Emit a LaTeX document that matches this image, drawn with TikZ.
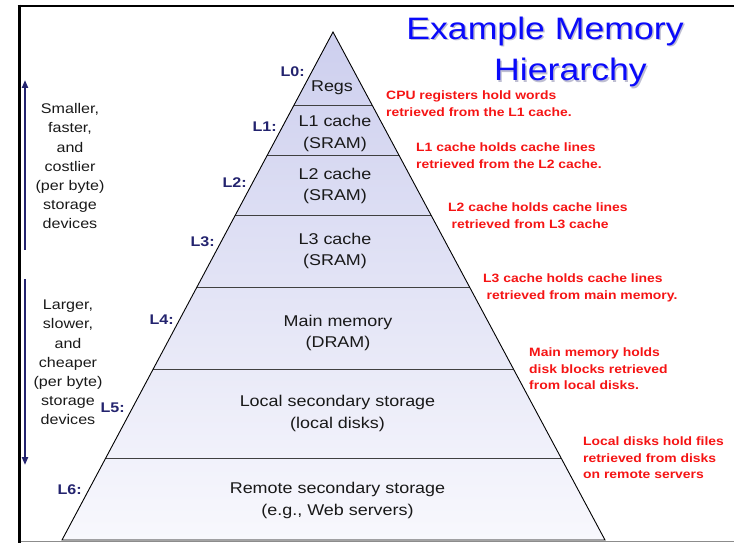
\documentclass[tikz,border=0pt]{standalone}
\usepackage{fontspec}
\setmainfont{Liberation Sans}
\usepackage{graphicx}
\usetikzlibrary{calc,arrows.meta}
\definecolor{navy}{RGB}{35,35,110}
\definecolor{redtxt}{RGB}{245,20,20}
\definecolor{titleblue}{RGB}{10,10,250}
\definecolor{titleshadow}{RGB}{190,190,210}
\definecolor{topfill}{RGB}{205,207,238}
\definecolor{botfill}{RGB}{248,248,253}
\definecolor{bodytext}{RGB}{25,25,25}
\newcommand{\sx}[1]{\scalebox{1.15}[1]{#1}}
\newcommand{\bandtext}[1]{\sx{\begin{tabular}{@{}c@{}}#1\end{tabular}}}
\newcommand{\notetext}[1]{\sx{\begin{tabular}[t]{@{}l@{}}#1\end{tabular}}}
\begin{document}
\begin{tikzpicture}[x=1pt,y=-1pt,
  band/.style={inner sep=0pt, text=bodytext, font=\fontsize{15.6}{21.5}\selectfont},
  side/.style={inner sep=0pt, text=bodytext, font=\fontsize{14}{19.2}\selectfont},
  note/.style={inner sep=0pt, text=redtxt, font=\fontsize{12.1}{17}\selectfont\bfseries},
  notetight/.style={note, font=\fontsize{12.1}{16.7}\selectfont\bfseries},
  lvl/.style={inner sep=0pt, anchor=east, text=navy, font=\fontsize{14}{16}\selectfont\bfseries},
  titletext/.style={inner sep=0pt, anchor=base, font=\fontsize{31}{37}\selectfont},
  sep/.style={draw=black!75, line width=0.9pt},
  outline/.style={draw=black, line width=0.9pt, line join=miter},
  navyarrow/.style={draw=navy, line width=2pt, -{Triangle[length=8pt,width=6pt]}}
]
\useasboundingbox (0,0) rectangle (734,543);

% frame
\draw[black, line width=2.5pt] (17.5,6) -- (734,6);
\draw[black, line width=3pt] (19,4.75) -- (19,543);
\draw[black!45, line width=1.5pt] (20.5,541.5) -- (734,541.5);

% pyramid
\coordinate (apex) at (333,32);
\coordinate (bl) at (62,540);
\coordinate (br) at (605,540);
\shade[top color=topfill, bottom color=botfill] (apex) -- (bl) -- (br) -- cycle;
\foreach \yy/\n in {105/a,155/b,215/c,287/d,369/e,458/f}{
  \coordinate (L\n) at ({333-271/508*(\yy-32)},\yy);
  \coordinate (R\n) at ({333+272/508*(\yy-32)},\yy);
}
\foreach \n in {a,b,c,d,e,f}{ \draw[sep] (L\n) -- (R\n); }
\draw[outline] (apex) -- (bl) -- (br) -- cycle;

% band texts
\node[band] (regs) at (332,88) {\sx{Regs}};
\node[band] (l1) at (335,133) {\bandtext{L1 cache\\(SRAM)}};
\node[band] (l2) at (335,185.5) {\bandtext{L2 cache\\(SRAM)}};
\node[band] (l3) at (335,250.5) {\bandtext{L3 cache\\(SRAM)}};
\node[band] (l4) at (338,332.5) {\bandtext{Main memory\\(DRAM)}};
\node[band] (l5) at (337.5,413) {\bandtext{Local secondary storage\\(local disks)}};
\node[band] (l6) at (337.5,500) {\bandtext{Remote secondary storage\\(e.g., Web servers)}};

% level labels
\node[lvl] (lab0) at (305,72) {\sx{L0:}};
\node[lvl] (lab1) at (277,127) {\sx{L1:}};
\node[lvl] (lab2) at (247,183) {\sx{L2:}};
\node[lvl] (lab3) at (215,242) {\sx{L3:}};
\node[lvl] (lab4) at (174,320) {\sx{L4:}};
\node[lvl] (lab5) at (125,408) {\sx{L5:}};
\node[lvl] (lab6) at (82,490) {\sx{L6:}};

% left side texts and arrows
\node[side] (smaller) at (70,167.5) {\bandtext{Smaller,\\faster,\\and\\costlier\\(per byte)\\storage\\devices}};
\node[side] (larger) at (68,363.5) {\bandtext{Larger,\\slower,\\and\\cheaper\\(per byte)\\storage\\devices}};
\coordinate (upS) at (25,250);
\coordinate (upE) at (25,80);
\coordinate (dnS) at (25,279);
\coordinate (dnE) at (25,465);
\draw[navyarrow] (upS) -- (upE);
\draw[navyarrow] (dnS) -- (dnE);

% red notes
\node[note, anchor=base west] (n0) at (386,99.5) {\notetext{CPU registers hold words\\retrieved from the L1 cache.}};
\node[note, anchor=base west] (n1) at (416,151.5) {\notetext{L1 cache holds cache lines\\retrieved from the L2 cache.}};
\node[note, anchor=base west] (n2) at (448,211.5) {\notetext{L2 cache holds cache lines\\\hspace{3pt}retrieved from L3 cache}};
\node[note, anchor=base west] (n3) at (483,282.5) {\notetext{L3 cache holds cache lines\\\hspace{3pt}retrieved from main memory.}};
\node[notetight, anchor=base west] (n4) at (529,356.5) {\notetext{Main memory holds\\disk blocks retrieved\\from local disks.}};
\node[notetight, anchor=base west] (n5) at (583,445.5) {\notetext{Local disks hold files\\retrieved from disks\\on remote servers}};

% title with shadow
\node[titletext, text=titleshadow] (t1s) at (546.5,41) {\sx{Example Memory}};
\node[titletext, text=titleshadow] (t2s) at (572,82) {\sx{Hierarchy}};
\node[titletext, text=titleblue] (t1) at (545,39.5) {\sx{Example Memory}};
\node[titletext, text=titleblue] (t2) at (570.5,80.5) {\sx{Hierarchy}};
\end{tikzpicture}
\end{document}
